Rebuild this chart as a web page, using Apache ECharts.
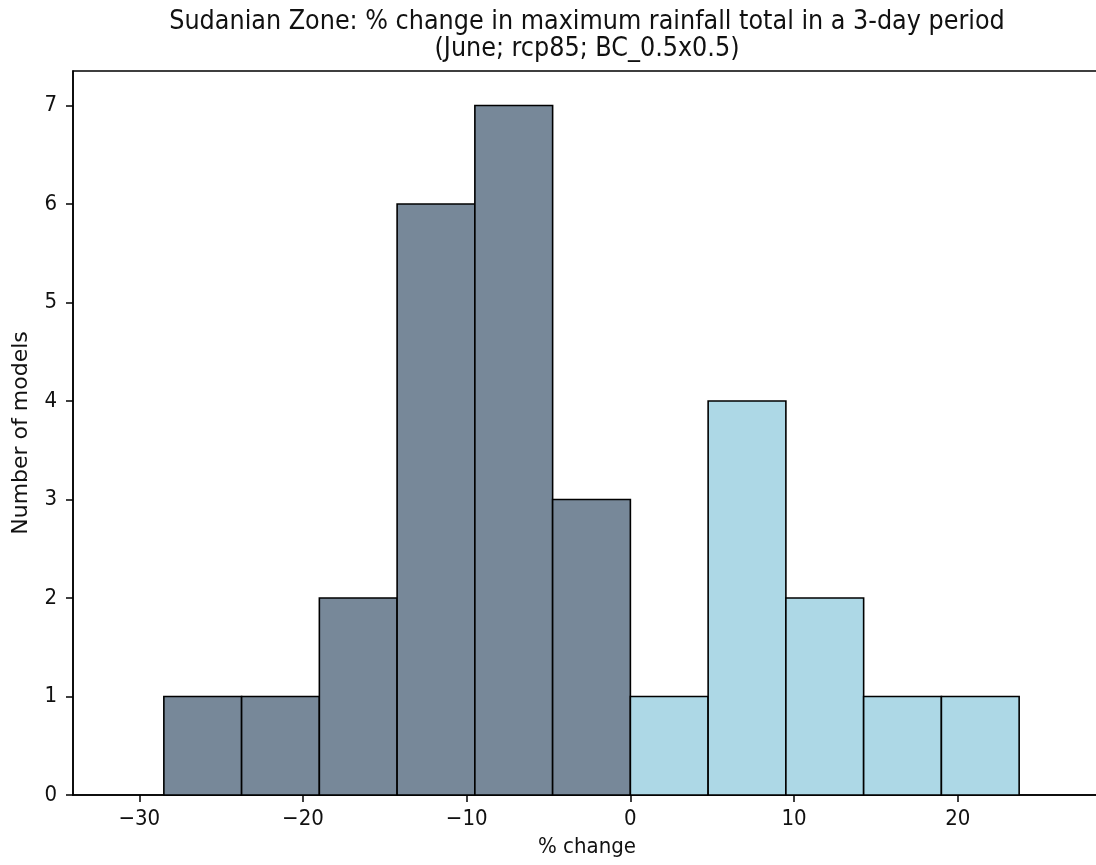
<!DOCTYPE html>
<html>
<head>
<meta charset="utf-8">
<script src="https://cdn.jsdelivr.net/npm/echarts@6/dist/echarts.min.js"></script>
<style>
    html, body { margin: 0; padding: 0; background: #fff; overflow: hidden; }
    /* 比窗口略宽，右侧边框落在可视区域之外 */
    #chart { width: 1102px; height: 865px; }
</style>
</head>
<body>
<div id="chart"></div>
<script>
// 直方图的分箱边界和每个箱子的模型数
var binEdges = [-28.5, -23.75, -19, -14.25, -9.5, -4.75, 0, 4.75, 9.5, 14.25, 19, 23.75];
var modelCounts = [1, 1, 2, 6, 7, 3, 1, 4, 2, 1, 1];
var xTicks = [-30, -20, -10, 0, 10, 20];
var yTicks = [0, 1, 2, 3, 4, 5, 6, 7];

(function () {
    let myChart = echarts.init(document.getElementById('chart'));

    // [起点, 终点, 数量]
    let bins = modelCounts.map(function (n, i) {
        return [binEdges[i], binEdges[i + 1], n];
    });

    function minusSign(v) {
        return String(v).replace('-', '\u2212');  // matplotlib 风格的负号
    }

    let option = {
        backgroundColor: '#fff',
        animation: false,
        title: {
            text: 'Sudanian Zone: % change in maximum rainfall total in a 3-day period\n(June; rcp85; BC_0.5x0.5)',
            left: 587,
            top: 9,
            padding: 0,
            textAlign: 'center',
            textStyle: {
                fontFamily: 'DejaVu Sans Condensed, DejaVu Sans',
                fontSize: 26.6,
                fontWeight: 'normal',
                color: '#111',
                lineHeight: 27
            }
        },
        grid: {
            left: 73,
            top: 71,
            right: 1,
            bottom: 70,
            show: true,
            borderColor: '#000',
            borderWidth: 1.5
        },
        xAxis: {
            type: 'value',
            min: -34.05,
            max: 28.75,
            name: '% change',
            nameLocation: 'middle',
            nameGap: 41,
            nameTextStyle: {
                fontFamily: 'DejaVu Sans Condensed, DejaVu Sans',
                fontSize: 22,
                color: '#111'
            },
            axisLine: { show: true, onZero: false, lineStyle: { color: '#000', width: 1.5 } },
            axisTick: { show: true, length: 7, customValues: xTicks, lineStyle: { color: '#000', width: 1.5 } },
            axisLabel: {
                customValues: xTicks,
                margin: 13,
                fontFamily: 'DejaVu Sans Condensed, DejaVu Sans',
                fontSize: 22,
                color: '#111',
                formatter: minusSign
            },
            splitLine: { show: false }
        },
        yAxis: {
            type: 'value',
            min: 0,
            max: 7.35,
            name: 'Number of models',
            nameLocation: 'middle',
            nameGap: 41,
            nameTextStyle: {
                fontFamily: 'DejaVu Sans',
                fontSize: 22,
                color: '#111'
            },
            axisLine: { show: true, onZero: false, lineStyle: { color: '#000', width: 1.5 } },
            axisTick: { show: true, length: 7, customValues: yTicks, lineStyle: { color: '#000', width: 1.5 } },
            axisLabel: {
                customValues: yTicks,
                margin: 16,
                fontFamily: 'DejaVu Sans Condensed, DejaVu Sans',
                fontSize: 22,
                color: '#111'
            },
            splitLine: { show: false }
        },
        series: [
            {
                name: 'models',
                type: 'custom',
                encode: { x: [0, 1], y: 2 },
                data: bins,
                renderItem: function (params, api) {
                    let x0 = api.value(0);
                    let x1 = api.value(1);
                    let top = api.coord([x0, api.value(2)]);
                    let bottom = api.coord([x1, 0]);
                    return {
                        type: 'rect',
                        shape: {
                            x: top[0],
                            y: top[1],
                            width: bottom[0] - top[0],
                            height: bottom[1] - top[1]
                        },
                        style: {
                            fill: x0 < 0 ? '#778899' : '#add8e6',  // 负值深灰蓝，正值浅蓝
                            stroke: '#000',
                            lineWidth: 1.6
                        }
                    };
                }
            }
        ]
    };
    myChart.setOption(option);

    window.addEventListener('resize', function () {
        myChart.resize();
    });
})();
</script>
</body>
</html>
